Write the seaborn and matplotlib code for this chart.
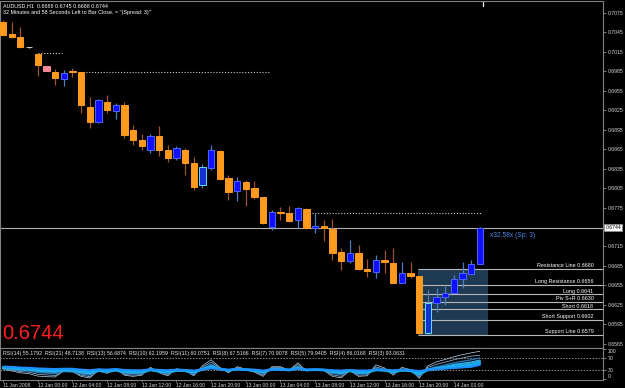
import numpy as np
import pandas as pd
import matplotlib
matplotlib.use("Agg")
import matplotlib.pyplot as plt
import matplotlib.transforms as mtrans
import seaborn as sns

# ---------------- data ----------------
header_line1 = "AUDUSD,H1  0.6688 0.6745 0.6688 0.6744"
header_line2 = "32 Minutes and 58 Seconds Left to Bar Close. = ''(Spread: 3)''"
spread_label = "x32.58x (Sp: 3)"

opens = [0.7061, 0.7043, 0.7038, 0.7022, 0.7012, 0.6993, 0.6984, 0.6973, 0.6985, 0.6984,
         0.6930, 0.6907, 0.6938, 0.6924, 0.6933, 0.6895, 0.6879, 0.6864, 0.6885, 0.6864,
         0.6851, 0.6864, 0.6844, 0.6810, 0.6836, 0.6862, 0.6821, 0.6801, 0.6814, 0.6805,
         0.6791, 0.6745, 0.6768, 0.6767, 0.6756, 0.6773, 0.6744, 0.6747, 0.6742, 0.6706,
         0.6693, 0.6705, 0.6680, 0.6676, 0.6694, 0.6690, 0.6659, 0.6674, 0.6669, 0.6581,
         0.6628, 0.6637, 0.6643, 0.6665, 0.6673, 0.6688]
highs = [0.7064, 0.7061, 0.7053, 0.7023, 0.7013, 0.6993, 0.6989, 0.6987, 0.6990, 0.6984,
         0.6946, 0.6942, 0.6949, 0.6936, 0.6938, 0.6902, 0.6888, 0.6888, 0.6901, 0.6871,
         0.6870, 0.6867, 0.6853, 0.6842, 0.6871, 0.6864, 0.6825, 0.6822, 0.6818, 0.6816,
         0.6791, 0.6771, 0.6776, 0.6777, 0.6776, 0.6774, 0.6767, 0.6756, 0.6757, 0.6713,
         0.6725, 0.6717, 0.6696, 0.6702, 0.6710, 0.6713, 0.6691, 0.6691, 0.6669, 0.6648,
         0.6651, 0.6654, 0.6671, 0.6691, 0.6694, 0.6745]
lows = [0.7040, 0.7036, 0.7021, 0.7021, 0.6978, 0.6986, 0.6964, 0.6962, 0.6976, 0.6921,
        0.6898, 0.6905, 0.6921, 0.6912, 0.6882, 0.6871, 0.6864, 0.6859, 0.6854, 0.6845,
        0.6848, 0.6825, 0.6802, 0.6805, 0.6833, 0.6818, 0.6787, 0.6785, 0.6777, 0.6788,
        0.6750, 0.6740, 0.6756, 0.6753, 0.6743, 0.6742, 0.6736, 0.6723, 0.6694, 0.6679,
        0.6690, 0.6679, 0.6668, 0.6666, 0.6674, 0.6659, 0.6659, 0.6666, 0.6580, 0.6580,
        0.6614, 0.6625, 0.6643, 0.6651, 0.6673, 0.6688]
closes = [0.7041, 0.7038, 0.7023, 0.7022, 0.6995, 0.6986, 0.6975, 0.6983, 0.6984, 0.6933,
          0.6907, 0.6941, 0.6925, 0.6933, 0.6887, 0.6879, 0.6870, 0.6885, 0.6864, 0.6851,
          0.6867, 0.6844, 0.6807, 0.6838, 0.6864, 0.6819, 0.6799, 0.6816, 0.6804, 0.6791,
          0.6751, 0.6768, 0.6766, 0.6754, 0.6774, 0.6743, 0.6746, 0.6743, 0.6705, 0.6693,
          0.6705, 0.6680, 0.6677, 0.6694, 0.6691, 0.6659, 0.6674, 0.6669, 0.6581, 0.6628,
          0.6637, 0.6643, 0.6665, 0.6674, 0.6688, 0.6744]

doji_bars = [3]
pink_bars = [5]
highlight_bars = [23, 49]

# dotted horizontal segments: level, first bar, last bar
dotted_levels = [0.7013, 0.6984, 0.6767]
dotted_from = [4.0, 8.9, 32.3]
dotted_to = [6.8, 30.8, 55.1]

# pivot levels
level_names = ["Resistance Line", "Long Resistance", "Long", "Piv S+R",
               "Short", "Short Support", "Support Line"]
level_values = [0.6680, 0.6656, 0.6641, 0.6630, 0.6618, 0.6602, 0.6579]

price_ticks = [0.7075, 0.7045, 0.7015, 0.6985, 0.6955, 0.6925, 0.6895, 0.6865,
               0.6835, 0.6805, 0.6775, 0.6715, 0.6685, 0.6655, 0.6625, 0.6595, 0.6565]

time_labels = ["11 Jan 2008", "12 Jan 00:00", "12 Jan 04:00", "12 Jan 08:00",
               "12 Jan 12:00", "12 Jan 16:00", "12 Jan 20:00", "13 Jan 00:00",
               "13 Jan 04:00", "13 Jan 08:00", "13 Jan 12:00", "13 Jan 16:00",
               "13 Jan 20:00", "14 Jan 00:00"]

# RSI series
rsi_21 = [42, 41, 39, 38, 36, 35, 34, 35, 35, 32,
          30, 33, 32, 34, 31, 30, 30, 33, 31, 30,
          32, 31, 29, 33, 37, 34, 32, 34, 33, 32,
          29, 33, 33, 32, 35, 32, 33, 32, 30, 29,
          31, 29, 29, 32, 32, 30, 32, 31, 27, 32,
          34, 36, 38, 40, 42, 48.7]
rsi_14 = [40, 38, 36, 35, 32, 31, 30, 32, 32, 28,
          25, 31, 29, 32, 28, 27, 27, 32, 29, 27,
          31, 30, 26, 33, 40, 34, 30, 34, 32, 30,
          26, 33, 33, 31, 36, 31, 32, 31, 27, 25,
          29, 25, 25, 31, 30, 26, 30, 29, 21, 31,
          35, 38, 42, 45, 48, 55.2]
rsi_10 = [38, 36, 33, 32, 28, 26, 25, 29, 29, 23,
          19, 29, 26, 30, 24, 22, 23, 31, 26, 23,
          29, 28, 22, 34, 44, 35, 29, 35, 32, 29,
          23, 34, 34, 31, 39, 31, 32, 31, 24, 21,
          28, 22, 22, 32, 30, 24, 30, 28, 16, 32,
          38, 42, 48, 52, 56, 62.2]
rsi_7 = [36, 33, 30, 28, 23, 21, 19, 26, 25, 18,
         14, 27, 23, 29, 20, 18, 19, 32, 24, 19,
         29, 27, 18, 36, 50, 37, 28, 36, 32, 28,
         19, 36, 36, 31, 43, 30, 32, 31, 20, 16,
         28, 18, 18, 35, 31, 20, 31, 28, 11, 34,
         42, 48, 55, 60, 65, 70.9]
rsi_5 = [35, 31, 26, 24, 17, 15, 13, 27, 25, 14,
         9, 28, 21, 32, 17, 14, 16, 36, 23, 15,
         32, 28, 15, 40, 57, 38, 25, 39, 33, 26,
         14, 39, 39, 30, 49, 29, 32, 30, 15, 10,
         29, 14, 15, 41, 34, 17, 35, 30, 7, 40,
         50, 57, 65, 71, 77, 79.9]
rsi_3 = [33, 28, 22, 19, 11, 9, 8, 28, 26, 10,
         5, 30, 20, 35, 14, 10, 14, 40, 22, 12,
         35, 30, 12, 45, 65, 40, 22, 42, 34, 24,
         10, 42, 42, 30, 55, 28, 33, 30, 10, 5,
         30, 10, 12, 48, 38, 14, 40, 32, 4, 45,
         58, 66, 75, 82, 88, 93.1]

rsi_legend_periods = [14, 21, 13, 10, 11, 8, 7, 5, 4, 3]
rsi_legend_values = [55.1792, 48.7138, 56.6874, 62.1959, 60.0751,
                     67.5166, 70.9078, 79.9405, 86.0168, 93.0631]

# ---------------- style ----------------
sns.set_theme(style="dark", rc={"axes.facecolor": "black", "figure.facecolor": "black",
                                "axes.edgecolor": "#808080", "axes.grid": False})
plt.rcParams["font.family"] = ["Liberation Sans", "DejaVu Sans"]

W, H = 625, 388
fig = plt.figure(figsize=(W / 100, H / 100), dpi=100)
fig.patch.set_facecolor("black")


def px_axes(x0, y0, x1, y1):
    return fig.add_axes([x0 / W, 1 - y1 / H, (x1 - x0) / W, (y1 - y0) / H])


ax = px_axes(0, 1, 603, 348)
ax_rsi = px_axes(0, 348, 603, 380)

XMIN, XMAX = -0.35, 69.2
TXT = "#d8d8d8"

# ---------------- candles ----------------
o = np.array(opens)
c = np.array(closes)
hi = np.array(highs)
lo = np.array(lows)
idx = np.arange(len(c))
bull = c >= o

face = np.where(bull, "#1010ff", "#ff9a1f").astype(object)
edge = np.where(bull, "#4a66ff", "#ff9a1f").astype(object)
wick = np.where(bull, "#4f7fc0", "#a0522d").astype(object)
for i in pink_bars:
    face[i] = edge[i] = wick[i] = "#f28a96"
for i in highlight_bars:
    edge[i] = "#5fe0f5"
    face[i] = "#1530d0"
for i in doji_bars:
    face[i] = edge[i] = wick[i] = "#c8c8c8"

ax.vlines(idx, lo, hi, colors=list(wick), lw=0.9, zorder=3)
body_h = np.maximum(np.abs(c - o), 0.00013)
ax.bar(idx, body_h, bottom=np.minimum(o, c), width=0.72, color=list(face),
       edgecolor=list(edge), linewidth=0.7, zorder=4)

# shaded pivot box and level lines
box_first = 48
ax.fill_between([box_first - 0.1, len(c) - 0.1], level_values[-1], level_values[0],
                color="#1d3a52", zorder=1, lw=0)
ax.hlines(level_values, box_first - 0.1, XMAX, colors="#b8b8b8", lw=0.8, zorder=2)
for name, val in zip(level_names, level_values):
    ax.annotate(f"{name} {val:.4f}", xy=(68.1, val), xytext=(0, 0.6),
                textcoords="offset points", ha="right", va="bottom",
                fontsize=3.9, color="white", zorder=6)

# dotted lines
ax.hlines(dotted_levels, dotted_from, dotted_to, colors="#d0d0d0",
          linestyles=(0, (1, 1.6)), lw=0.8, zorder=2)

# current price line
ax.axhline(c[-1], color="#b0b0b0", lw=0.8, zorder=2)
ax.axvline(len(c) - 0.6, ymin=0.985, ymax=1, color="white", lw=0.9)

ax.annotate(spread_label, xy=(len(c) + 0.2, c[-1]), xytext=(0, -3),
            textcoords="offset points", ha="left", va="top", fontsize=4.8,
            color="#4a86e8")

# texts
ax.text(0.005, 1 - 4.5 / 347, header_line1, transform=ax.transAxes, fontsize=3.9,
        color="white", va="center", ha="left")
ax.text(0.005, 1 - 11.5 / 347, header_line2, transform=ax.transAxes, fontsize=3.9,
        color="white", va="center", ha="left")
ax.text(0.004, 0.027, f"{c[-1]:.4f}", transform=ax.transAxes, fontsize=14.5,
        color="#ff1f1f", va="baseline", ha="left")

# axes setup main
ax.set_xlim(XMIN, XMAX)
ax.set_ylim(0.7075 - 335 / 6485, 0.7075 + 12 / 6485)
ax.set_xticks([])
ax.yaxis.tick_right()
ax.set_yticks(price_ticks)
ax.set_yticklabels([f"{t:.4f}" for t in price_ticks])
ax.tick_params(axis="y", colors="#909090", labelcolor=TXT, labelsize=3.7,
               length=2, width=0.6, pad=1.5, direction="out", right=True)
ax.text(1.004, c[-1], f"{c[-1]:.4f}",
        transform=mtrans.blended_transform_factory(ax.transAxes, ax.transData),
        fontsize=3.7, color="black", va="center", ha="left",
        bbox=dict(boxstyle="square,pad=0.25", fc="white", ec="#909090", lw=0.5))
for s in ax.spines.values():
    s.set_color("#808080")
    s.set_linewidth(0.8)

# ---------------- RSI panel ----------------
rsi_series = {"RSI(3)": rsi_3, "RSI(5)": rsi_5, "RSI(7)": rsi_7,
              "RSI(10)": rsi_10, "RSI(14)": rsi_14, "RSI(21)": rsi_21}
rows = []
for name, vals in rsi_series.items():
    for i, v in enumerate(vals):
        rows.append((i, v, name))
rsi_df = pd.DataFrame(rows, columns=["bar", "rsi", "period"])
palette = {"RSI(3)": "#b9d3e6", "RSI(5)": "#7fa9cc", "RSI(7)": "#2b6fa8",
           "RSI(10)": "#2fa8e6", "RSI(14)": "#14b4f0", "RSI(21)": "#1e90ff"}
sizes = {"RSI(3)": 0.5, "RSI(5)": 0.6, "RSI(7)": 1.0,
         "RSI(10)": 1.6, "RSI(14)": 1.8, "RSI(21)": 1.6}
sns.lineplot(data=rsi_df, x="bar", y="rsi", hue="period", size="period",
             palette=palette, sizes=sizes, hue_order=list(rsi_series.keys()),
             size_order=list(rsi_series.keys()), legend=False, ax=ax_rsi,
             estimator=None)
for lvl in (70, 30):
    ax_rsi.axhline(lvl, color="#8a8a8a", ls=(0, (1.5, 1.5)), lw=0.7, zorder=0)

legend_str = "  ".join(f"RSI({p}) {v:.4f}" for p, v in zip(rsi_legend_periods, rsi_legend_values))
ax_rsi.text(0.005, 1 - 6 / 32, legend_str, transform=ax_rsi.transAxes, fontsize=3.8,
            color="#e8e8e8", va="center", ha="left")

ax_rsi.set_xlim(XMIN, XMAX)
ax_rsi.set_ylim(-2, 104)
ax_rsi.set_xlabel("")
ax_rsi.set_ylabel("")
ax_rsi.yaxis.tick_right()
ax_rsi.set_yticks([100, 70, 30, 0])
ax_rsi.set_yticklabels(["100", "70", "30", "0"])
ylabs = ax_rsi.get_yticklabels()
ylabs[0].set_va("top")
ylabs[3].set_va("bottom")
ax_rsi.tick_params(axis="y", colors="#909090", labelcolor=TXT, labelsize=3.7,
                   length=2, width=0.6, pad=1.5, right=True)
ax_rsi.set_xticks(idx[::4])
ax_rsi.set_xticklabels(time_labels)
for t in ax_rsi.get_xticklabels():
    t.set_ha("left")
ax_rsi.tick_params(axis="x", colors="#909090", labelcolor=TXT, labelsize=3.6,
                   length=1.5, width=0.6, pad=0.4, bottom=True)
for s in ax_rsi.spines.values():
    s.set_color("#808080")
    s.set_linewidth(0.8)

fig.savefig("out.png", dpi=100, facecolor="black")
